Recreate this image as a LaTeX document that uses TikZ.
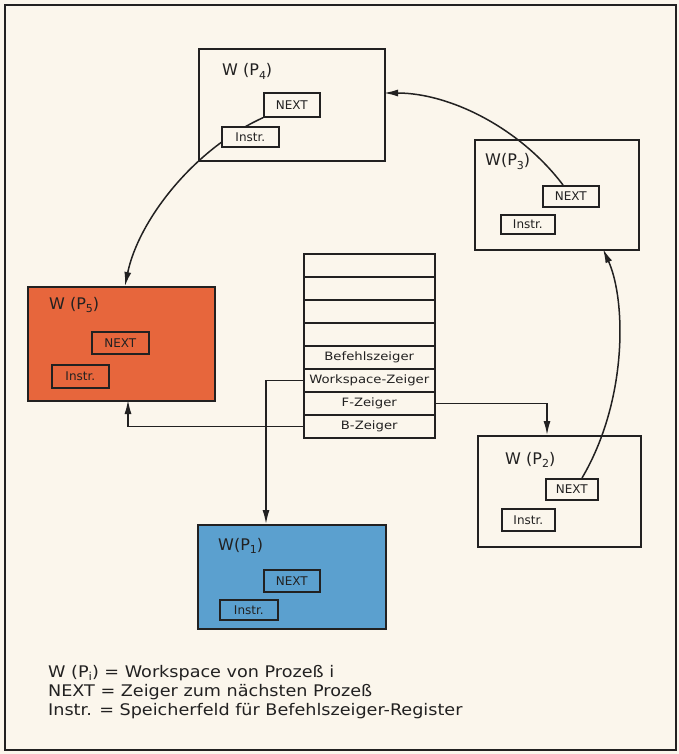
\documentclass[tikz,border=0pt]{standalone}
\usepackage{fontspec}
\setmainfont{DejaVu Sans}
\newfontfamily\regfont[FakeStretch=1.15]{DejaVu Sans}
\newfontfamily\legfont[FakeStretch=1.1]{DejaVu Sans}
\usetikzlibrary{arrows.meta}
\definecolor{paper}{HTML}{FBF6EC}
\definecolor{ink}{HTML}{222121}
\definecolor{wsorange}{HTML}{E7663C}
\definecolor{wsblue}{HTML}{5BA0CF}
\newcommand{\Pidx}[1]{P\raisebox{-0.45ex}{\fontsize{11}{11}\selectfont #1}}
\begin{document}
\begin{tikzpicture}[x=1pt,y=-1pt,
  ws/.style={draw=ink, line width=1.8pt, anchor=north west, inner sep=0pt},
  fld/.style={draw=ink, line width=1.7pt, anchor=north west, inner sep=0pt, text=ink, font=\fontsize{12}{12}\selectfont},
  reg/.style={draw=ink, line width=1.5pt, minimum width=131pt, minimum height=23pt, inner sep=0pt, anchor=north west, text=ink, font=\regfont\fontsize{11.5}{11.5}\selectfont},
  ttl/.style={anchor=base west, inner sep=0pt, text=ink, font=\fontsize{16}{16}\selectfont},
  leg/.style={anchor=base west, inner sep=0pt, text=ink, font=\legfont\fontsize{16}{16}\selectfont},
  conn/.style={draw=ink, line width=1.5pt},
  tip/.style={-{Latex[length=14pt,width=7pt]}}
]
\fill[paper] (0,0) rectangle (679,754);
\useasboundingbox (0,0) rectangle (679,754);
\draw[ink, line width=1.6pt] (5,5) rectangle (676,750);

% workspaces
\node[ws, minimum width=186pt, minimum height=112pt] (p4) at (198,48) {};
\node[ws, minimum width=164pt, minimum height=110pt] (p3) at (474,139) {};
\node[ws, fill=wsorange, minimum width=187pt, minimum height=114pt] (p5) at (27,286) {};
\node[ws, minimum width=163pt, minimum height=111pt] (p2) at (477,435) {};
\node[ws, fill=wsblue, minimum width=188pt, minimum height=104pt] (p1) at (197,524) {};

% titles
\node[ttl] (t4) at (222,76) {W (\Pidx{4})};
\node[ttl] (t3) at (485,166) {W(\Pidx{3})};
\node[ttl] (t5) at (49,309) {W (\Pidx{5})};
\node[ttl] (t2) at (505,464) {W (\Pidx{2})};
\node[ttl] (t1) at (218,550) {W(\Pidx{1})};

% connection points
\coordinate (p5in) at (125,286);
\coordinate (p4in) at (384,93);
\coordinate (n3out) at (563,185);
\coordinate (n2out) at (582,478);
\coordinate (p3in) at (603,249);
\coordinate (p2in) at (547,435);
\coordinate (p1in) at (266,524);
\coordinate (p5bot) at (128,400);

% NEXT fields
\node[fld, minimum width=56pt, minimum height=24pt] (n4) at (263,92) {NEXT};
\node[fld, minimum width=56pt, minimum height=21pt] (n3) at (542,185) {NEXT};
\node[fld, minimum width=57pt, minimum height=22pt] (n5) at (91,331) {NEXT};
\node[fld, minimum width=52pt, minimum height=21pt] (n2) at (545,478) {NEXT};
\node[fld, minimum width=56pt, minimum height=22pt] (n1) at (263,569) {NEXT};

% NEXT pointers
\draw[conn,tip] (n4.south west) .. controls (192,150) and (138,222) .. (p5in);
\draw[conn,tip] (n3out) .. controls (520,128) and (450,93) .. (p4in);
\draw[conn,tip] (n2out) .. controls (628,400) and (626,300) .. (p3in);

% Instr fields
\node[fld, fill=paper, minimum width=57pt, minimum height=20pt] (i4) at (221,126) {Instr.};
\node[fld, minimum width=54pt, minimum height=19pt] (i3) at (500,214) {Instr.};
\node[fld, minimum width=57pt, minimum height=23pt] (i5) at (51,364) {Instr.};
\node[fld, minimum width=53pt, minimum height=22pt] (i2) at (501,508) {Instr.};
\node[fld, minimum width=58pt, minimum height=20pt] (i1) at (219,599) {Instr.};

% register
\node[reg] (r1) at (303,253) {};
\node[reg] (r2) at (303,276) {};
\node[reg] (r3) at (303,299) {};
\node[reg] (r4) at (303,322) {};
\node[reg] (r5) at (303,345) {Befehlszeiger};
\node[reg] (r6) at (303,368) {Workspace-Zeiger};
\node[reg] (r7) at (303,391) {F-Zeiger};
\node[reg] (r8) at (303,414) {B-Zeiger};

\draw[conn,tip] (r7.east) -| (p2in);
\draw[conn,tip] (r6.west) -| (p1in);
\draw[conn,tip] (r8.west) -| (p5bot);

% legend
\node[leg] (l1) at (48,677) {W (\Pidx{i}) = Workspace von Prozeß i};
\node[leg] (l2) at (48,696) {NEXT = Zeiger zum nächsten Prozeß};
\node[leg] (l3) at (48,715) {Instr. = Speicherfeld für Befehlszeiger-Register};
\end{tikzpicture}
\end{document}
